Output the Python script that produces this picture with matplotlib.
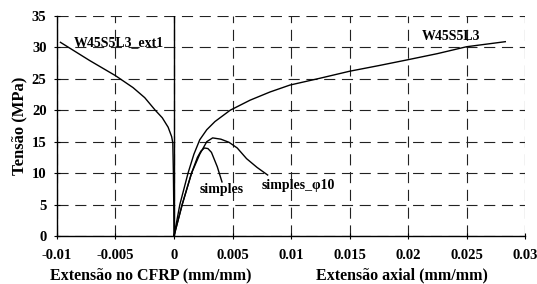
import matplotlib
matplotlib.use("Agg")
import matplotlib.pyplot as plt

# Data
w_strain = [0, 0.0005, 0.0012, 0.0017, 0.0022, 0.0028, 0.0035, 0.0048, 0.0065, 0.0082,
            0.0099, 0.0125, 0.015, 0.0175, 0.0199, 0.0225, 0.025, 0.0283]
w_stress = [0, 5, 10, 13, 15.3, 16.9, 18.2, 20.0, 21.6, 22.9,
            24.0, 25.1, 26.2, 27.1, 28.0, 29.0, 30.1, 30.9]

ext_strain = [0, -0.00002, -0.00005, -0.0001, -0.0002, -0.0005, -0.001, -0.0016,
              -0.0025, -0.0035, -0.005, -0.0072, -0.0097]
ext_stress = [0, 5, 10, 14.8, 15.8, 17.3, 18.8, 20.0,
              22.0, 23.6, 25.5, 27.9, 30.8]

s_strain = [0, 0.0007, 0.0015, 0.002, 0.0023, 0.0026, 0.0029, 0.0032, 0.0037, 0.0041]
s_stress = [0, 5, 10, 12.5, 13.5, 14.0, 13.9, 13.3, 11.0, 8.6]

p_strain = [0, 0.0007, 0.0015, 0.0022, 0.0028, 0.0033, 0.0040, 0.0047, 0.0054, 0.0062, 0.0071, 0.0080]
p_stress = [0, 5, 10, 13, 15.0, 15.6, 15.4, 14.9, 14.0, 12.3, 10.9, 9.7]

x_ticks = [-0.01, -0.005, 0, 0.005, 0.01, 0.015, 0.02, 0.025, 0.03]
x_labels = ["-0.01", "-0.005", "0", "0.005", "0.01", "0.015", "0.02", "0.025", "0.03"]
y_ticks = [0, 5, 10, 15, 20, 25, 30, 35]

plt.rcParams['font.family'] = ['Liberation Serif', 'DejaVu Serif']
plt.rcParams['font.weight'] = 'bold'

fig = plt.figure(figsize=(5.37, 2.84), dpi=100)
ax = fig.add_axes([0.106, 0.169, 0.872, 0.775])

ax.set_xlim(-0.01, 0.03)
ax.set_ylim(0, 35)
ax.set_xticks(x_ticks)
ax.set_xticklabels(x_labels)
ax.set_yticks(y_ticks)
ax.grid(True, color='#222222', linestyle=(0, (10, 6)), linewidth=0.8)
ax.set_axisbelow(True)
for s in ['top', 'right']:
    ax.spines[s].set_visible(False)
for s in ['left', 'bottom']:
    ax.spines[s].set_linewidth(1.0)
ax.tick_params(direction='inout', length=5, width=0.8, labelsize=10.5)
ax.tick_params(axis='x', pad=7)
ax.tick_params(axis='y', pad=5)
for lab in ax.get_xticklabels() + ax.get_yticklabels():
    lab.set_fontweight('bold')

ax.axvline(0, color='black', linewidth=1.0)

lw = 1.0
ax.plot(w_strain, w_stress, color='black', lw=lw)
ax.plot(ext_strain, ext_stress, color='black', lw=lw)
ax.plot(s_strain, s_stress, color='black', lw=lw)
ax.plot(p_strain, p_stress, color='black', lw=lw)

fs = 10
ax.text(-0.0086, 30.7, "W45S5L3_ext1", fontsize=fs, fontweight='bold', va='center', ha='left')
ax.text(0.0237, 31.8, "W45S5L3", fontsize=fs, fontweight='bold', va='center', ha='center')
ax.text(0.0041, 7.4, "simples", fontsize=fs, fontweight='bold', va='center', ha='center')
ax.text(0.0075, 8.1, "simples_\u03c610", fontsize=fs, fontweight='bold', va='center', ha='left')

ax.set_ylabel("Tensão (MPa)", fontsize=12, fontweight='bold', labelpad=3)
fig.text(151 / 537, 1 - 275.5 / 284, "Extensão no CFRP (mm/mm)", fontsize=11.5,
         fontweight='bold', ha='center', va='center')
fig.text(402 / 537, 1 - 275.5 / 284, "Extensão axial (mm/mm)", fontsize=11.5,
         fontweight='bold', ha='center', va='center')

fig.savefig("out.png", dpi=100)
